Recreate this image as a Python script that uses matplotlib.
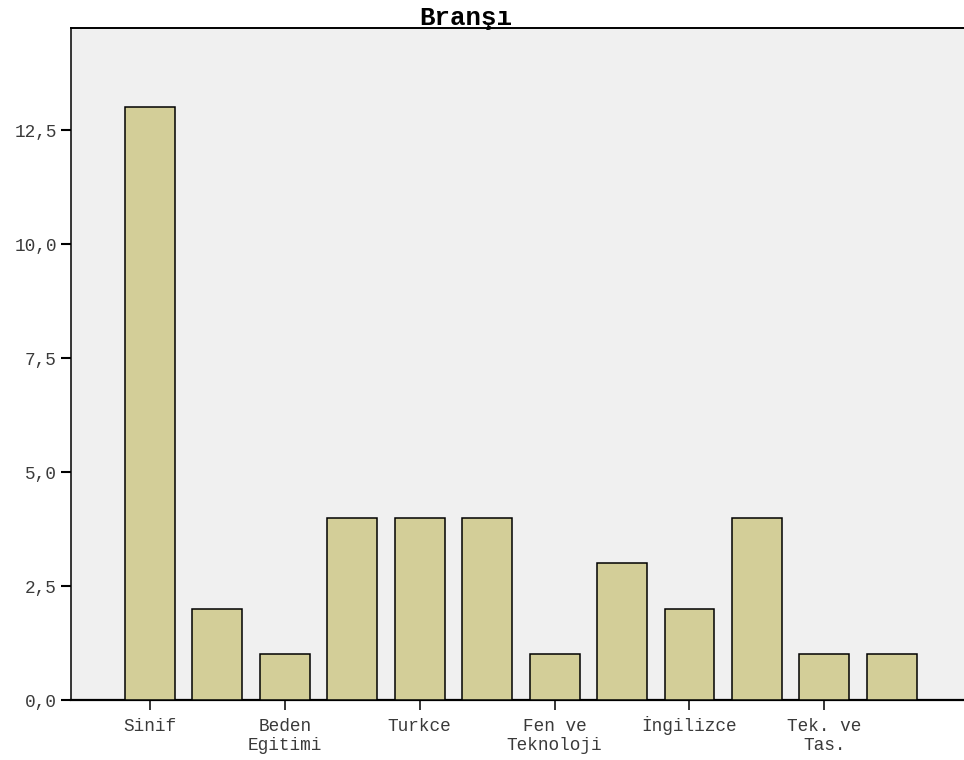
import matplotlib.pyplot as plt
import matplotlib.transforms as mtransforms
import numpy as np

# Branş dağılımı (frekans)
categories = ['Sinif', '', 'Beden\nEgitimi', '', 'Turkce', '', 'Fen ve\nTeknoloji', '',
              'İngilizce', '', 'Tek. ve\nTas.', '']
counts = [13, 2, 1, 4, 4, 4, 1, 3, 2, 4, 1, 1]
ytick_vals = [0.0, 2.5, 5.0, 7.5, 10.0, 12.5]
ytick_labels = ['0,0', '2,5', '5,0', '7,5', '10,0', '12,5']

plt.rcParams['font.family'] = ['Liberation Mono', 'DejaVu Sans Mono']

fig = plt.figure(figsize=(9.64, 7.6), dpi=100)
ax = fig.add_axes([71 / 964, 1 - 700 / 760, 1 - 71 / 964, (700 - 28) / 760])
ax.set_facecolor('#f0f0f0')

x = np.arange(len(counts))
ax.bar(x, counts, width=0.74, color='#d3ce98', edgecolor='black', linewidth=1.1, zorder=3)

ax.set_xlim(-1.17, 12.07)
ax.set_ylim(0, 14.74)

# only every other category is labelled
lab_pos = [i for i, c in enumerate(categories) if c]
ax.set_xticks(lab_pos)
labels = ax.set_xticklabels([categories[i] for i in lab_pos], fontsize=12.8,
                            color='#3a3a3a', linespacing=1.15)
ax.set_yticks(ytick_vals)
ax.set_yticklabels(ytick_labels, fontsize=12.8, color='#3a3a3a')

ax.tick_params(axis='y', length=7.2, width=1.5, pad=3)
ax.tick_params(axis='x', length=7, width=1.1, pad=6)

# the dotted capital I makes this label taller; nudge it back up to the same baseline
for lab in labels:
    if lab.get_text().startswith('İ'):
        lab.set_transform(lab.get_transform() +
                          mtransforms.ScaledTranslation(0, 2 / 100, fig.dpi_scale_trans))

ax.spines['right'].set_visible(False)
ax.spines['left'].set_linewidth(1.1)
ax.spines['top'].set_linewidth(1.4)
ax.spines['bottom'].set_linewidth(1.6)

fig.text(466 / 964, 1 - 25 / 760, 'Branşı', ha='center', va='baseline',
         fontsize=18.5, fontweight='bold')

fig.savefig('out.png', dpi=100)
